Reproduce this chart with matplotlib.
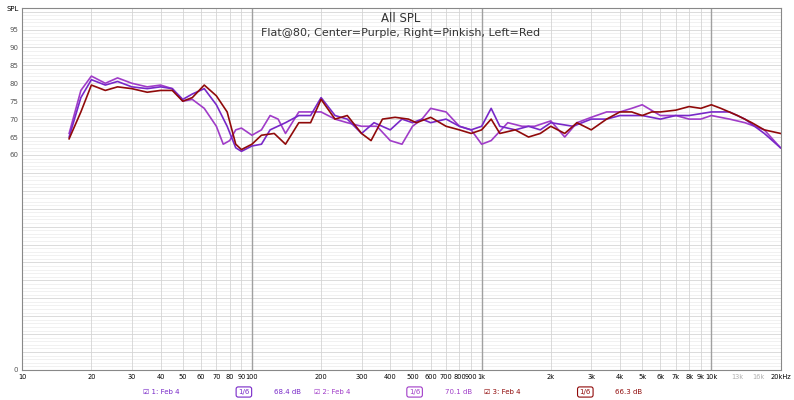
import matplotlib.pyplot as plt
from matplotlib.ticker import FixedLocator, NullFormatter

# measured responses (Hz, dB)
freq_left = [16, 18, 20, 23, 26, 30, 35, 40, 45, 50, 55, 62, 70, 78, 85, 90, 100, 110, 125, 140,
             160, 180, 200, 230, 260, 300, 330, 370, 420, 480, 520, 600, 700, 800, 900, 1000, 1100,
             1200, 1400, 1600, 1800, 2000, 2300, 2600, 3000, 3500, 4000, 4500, 5000, 5500, 6000,
             7000, 8000, 9000, 10000, 11000, 13000, 15000, 17000, 20000]
spl_left = [64.5, 72, 79.5, 78, 79, 78.5, 77.5, 78, 78, 75, 76, 79.5, 76.5, 72, 63, 61.5, 63, 65.5,
            66, 63, 69, 69, 75.5, 70, 71, 66, 64, 70, 70.5, 70, 69, 70.5, 68, 67, 66, 67, 70,
            66, 67, 65, 66, 68, 66, 69, 67, 70, 72, 72, 71, 72, 72, 72.5, 73.5, 73, 74, 73, 71,
            69, 67, 66]

freq_right = [16, 18, 20, 23, 26, 30, 35, 40, 45, 50, 55, 62, 70, 75, 80, 85, 90, 100, 110, 120,
              130, 140, 160, 180, 200, 230, 260, 300, 350, 400, 450, 500, 550, 600, 700, 800, 900,
              1000, 1100, 1300, 1500, 1700, 2000, 2300, 2600, 3000, 3500, 4000, 4500, 5000, 6000,
              7000, 8000, 9000, 10000, 12000, 14000, 17000, 20000]
spl_right = [66, 78, 82, 80, 81.5, 80, 79, 79.5, 78.5, 75, 75.5, 73, 68, 63, 64, 67, 67.5, 65.5,
             67, 71, 70, 66, 72, 72, 72, 70, 69, 68, 68, 64, 63, 68, 70, 73, 72, 68, 67, 63, 64,
             69, 68, 68, 69.5, 65, 69, 70.5, 72, 72, 73, 74, 71, 71, 70, 70, 71, 70, 69, 67, 62]

freq_center = [16, 18, 20, 23, 26, 30, 35, 40, 45, 50, 55, 62, 70, 78, 85, 90, 100, 110, 120, 140,
               160, 180, 200, 230, 260, 300, 340, 400, 450, 500, 550, 600, 700, 800, 900, 1000,
               1100, 1200, 1400, 1600, 1800, 2000, 2500, 3000, 3500, 4000, 5000, 6000, 7000, 8000,
               10000, 12000, 14000, 17000, 20000]
spl_center = [65, 76, 81, 79.5, 80.5, 79, 78.5, 79, 78.5, 75.5, 77, 78.5, 74, 68, 62, 61, 62.5, 63,
              67, 69, 71, 71, 76, 71, 70, 66, 69, 67, 70, 69, 70, 69, 70, 68, 67, 68, 73, 68, 67,
              68, 67, 69, 68, 70, 70, 71, 71, 70, 71, 71, 72, 72, 70, 66, 62]

tick_freqs = [10, 20, 30, 40, 50, 60, 70, 80, 90, 100, 200, 300, 400, 500, 600, 700, 800, 900, 1000,
              2000, 3000, 4000, 5000, 6000, 7000, 8000, 9000, 10000, 13000, 16000, 20000]
tick_labels = ['10', '20', '30', '40', '50', '60', '70', '80', '90', '100', '200', '300', '400', '500',
               '600', '700', '800', '900', '1k', '2k', '3k', '4k', '5k', '6k', '7k', '8k', '9k', '10k',
               '13k', '16k', '20kHz']

fig = plt.figure(figsize=(7.94, 4.0), dpi=100)
ax = fig.add_axes([0.028, 0.075, 0.955, 0.905])
ax.set_xscale('log')
ax.set_xlim(10, 20000)
ax.set_ylim(0, 101)

# grid
for y in range(0, 101):
    ax.axhline(y, color='#ebebeb', lw=0.5, zorder=0)
for y in range(0, 101, 5):
    ax.axhline(y, color='#d8d8d8', lw=0.6, zorder=0)
minor = [m * d for d in (10, 100, 1000) for m in range(1, 10)] + [10000, 20000]
for f in minor:
    ax.axvline(f, color='#d4d4d4', lw=0.6, zorder=0)
for f in (100, 1000, 10000):
    ax.axvline(f, color='#a0a0a0', lw=1.0, zorder=0)

ax.plot(freq_right, spl_right, color='#a03cc8', lw=1.2)
ax.plot(freq_center, spl_center, color='#7828c8', lw=1.2)
ax.plot(freq_left, spl_left, color='#900a0a', lw=1.2)

ax.xaxis.set_major_locator(FixedLocator(tick_freqs))
ax.xaxis.set_minor_formatter(NullFormatter())
ax.set_xticks(tick_freqs)
ax.set_xticklabels(tick_labels, fontsize=4.8)
for lbl in ax.get_xticklabels():
    if lbl.get_text() in ('13k', '16k'):
        lbl.set_color('#b0b0b0')
ax.set_yticks(range(0, 100, 5))
ax.set_yticklabels(['0'] + [''] * 11 + [str(v) for v in range(60, 100, 5)], fontsize=5, color='#555555')
ax.tick_params(length=0, pad=3)
for s in ax.spines.values():
    s.set_color('#888888')

fig.text(0.008, 0.985, 'SPL', fontsize=5, va='top')
fig.text(0.505, 0.97, 'All SPL', fontsize=8.5, ha='center', va='top', color='#333333')
fig.text(0.505, 0.93, 'Flat@80; Center=Purple, Right=Pinkish, Left=Red', fontsize=8, ha='center',
         va='top', color='#333333')

legend = [(0.18, '1: Feb 4', '68.4 dB', '#7828c8'),
          (0.395, '2: Feb 4', '70.1 dB', '#a03cc8'),
          (0.61, '3: Feb 4', '66.3 dB', '#900a0a')]
for x, name, db, c in legend:
    fig.text(x, 0.02, '\u2611 ' + name, fontsize=5, color=c, va='center')
    fig.text(x + 0.12, 0.02, '1/6', fontsize=5, color=c, va='center',
             bbox=dict(boxstyle='round,pad=0.3', fc='white', ec=c, lw=0.8))
    fig.text(x + 0.165, 0.02, db, fontsize=5, color=c, va='center')

fig.savefig('out.png', dpi=100)
